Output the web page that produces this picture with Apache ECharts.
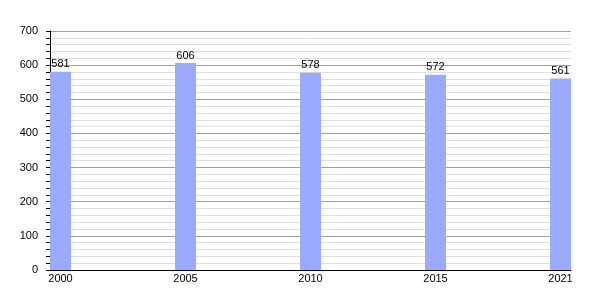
<!DOCTYPE html>
<html><head><meta charset="utf-8">
<script src="https://cdn.jsdelivr.net/npm/echarts@6/dist/echarts.min.js"></script>
<style>html,body{margin:0;padding:0;background:#fff}#c{width:600px;height:300px}</style>
</head><body><div id="c"></div>
<script>
const categories = ['2000', '2005', '2010', '2015', '2021'];
const values = [581, 606, 578, 572, 561];
const yTicks = [0, 100, 200, 300, 400, 500, 600, 700];

const chart = echarts.init(document.getElementById('c'), null, {renderer: 'canvas'});
const font = 'Liberation Sans, Arial, sans-serif';
chart.setOption({
  animation: false,
  grid: {left: 50, right: 29, top: 31, bottom: 30},
  xAxis: {
    type: 'value',
    min: -0.084, max: categories.length - 1 + 0.084,
    splitLine: {show: false},
    axisLine: {show: true, onZero: false, lineStyle: {color: '#000', width: 1}},
    axisTick: {show: false},
    axisLabel: {
      customValues: categories.map((c, i) => i),
      formatter: v => categories[Math.round(v)],
      color: '#000', fontSize: 11, fontFamily: font, margin: 3
    }
  },
  yAxis: {
    type: 'value', min: yTicks[0], max: yTicks[yTicks.length - 1], interval: 100,
    axisLine: {show: true, onZero: false, lineStyle: {color: '#000', width: 1}},
    axisTick: {show: true, length: 4, lineStyle: {color: '#000'}},
    minorTick: {show: true, splitNumber: 5, length: 4, lineStyle: {color: '#000'}},
    splitLine: {show: true, lineStyle: {color: '#a0a0a0', width: 1}},
    minorSplitLine: {show: true, lineStyle: {color: '#dedede', width: 1}},
    axisLabel: {color: '#000', fontSize: 11, fontFamily: font, margin: 12}
  },
  series: [{
    type: 'bar',
    data: values.map((v, i) => [i, v]),
    barWidth: 21,
    itemStyle: {color: '#99aaff'},
    label: {show: true, position: 'top', distance: 2, color: '#000', fontSize: 11, fontFamily: font,
      formatter: p => p.value[1]}
  }]
});
</script></body></html>
